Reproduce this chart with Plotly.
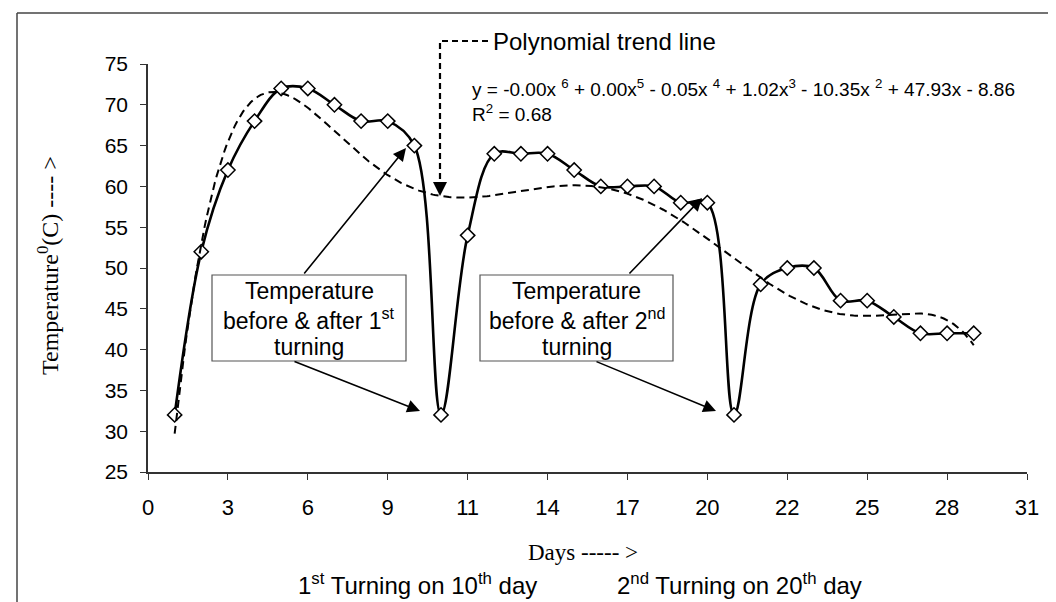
import numpy as np
import plotly.graph_objects as go

# ---------------- data ----------------
days = list(range(1, 32))
temps = [32, 52, 62, 68, 72, 72, 70, 68, 68, 65, 32,
         54, 64, 64, 64, 62, 60, 60, 60, 58, 58, 32,
         48, 50, 50, 46, 46, 44, 42, 42, 42]
x_tick_labels = ["0", "3", "6", "9", "11", "14", "17", "20", "22", "25", "28", "31"]
y_ticks = [25, 30, 35, 40, 45, 50, 55, 60, 65, 70, 75]

# 6th-order polynomial trend line fitted to the data (as in the source chart)
coef = np.polyfit(days, temps, 6)
trend_x = np.linspace(days[0], days[-1], 400)
trend_y = np.polyval(coef, trend_x)

SANS = "Liberation Sans, Arial, sans-serif"
SERIF = "Liberation Serif, Times New Roman, serif"

fig = go.Figure()
fig.add_trace(go.Scatter(
    x=days, y=temps, mode="lines+markers",
    line=dict(color="black", width=2.6, shape="spline", smoothing=1),
    marker=dict(symbol="diamond", size=11, color="white",
                line=dict(color="black", width=1.5)),
    showlegend=False, cliponaxis=False))
fig.add_trace(go.Scatter(
    x=trend_x, y=trend_y, mode="lines",
    line=dict(color="black", width=2, dash="8px,5px"),
    showlegend=False, cliponaxis=False))

# plot area geometry (pixels) used to place layout items
L, R, T, B = 140, 1019, 56, 464
def px(p):
    return (p - L) / (R - L)
def py(p):
    return (B - p) / (B - T)

shapes = []
annotations = []

# outer chart border (left and top)
shapes.append(dict(type="line", xref="paper", yref="paper",
                   x0=px(9), x1=px(9), y0=py(5), y1=py(602),
                   line=dict(color="#444", width=1.5)))
shapes.append(dict(type="line", xref="paper", yref="paper",
                   x0=px(9), x1=px(1056), y0=py(5), y1=py(5),
                   line=dict(color="#444", width=1.5)))

# callout boxes
box_lines_1 = ["Temperature", "before &amp; after 1<sup>st</sup>", "turning"]
box_lines_2 = ["Temperature", "before &amp; after 2<sup>nd</sup>", "turning"]
for (x0, x1), lines in [((204, 398), box_lines_1), ((472, 665), box_lines_2)]:
    shapes.append(dict(type="rect", xref="paper", yref="paper",
                       x0=px(x0), x1=px(x1), y0=py(353), y1=py(267),
                       line=dict(color="#555", width=1.2),
                       fillcolor="white", layer="above"))
    for txt, yc in zip(lines, [283, 311, 339]):
        annotations.append(dict(xref="paper", yref="paper", x=px((x0 + x1) / 2),
                                y=py(yc), xanchor="center", yanchor="middle",
                                showarrow=False, text=txt,
                                font=dict(family=SANS, size=23, color="black")))

# callout arrows (tail -> tip), pixel positions
for (tx, ty, hx, hy) in [(295, 267, 398, 140),
                         (285, 353, 412, 403),
                         (620, 267, 694, 190),
                         (587, 353, 708, 403)]:
    annotations.append(dict(xref="paper", yref="paper", axref="pixel", ayref="pixel",
                            x=px(hx), y=py(hy), ax=tx - hx, ay=ty - hy, text="",
                            showarrow=True, arrowhead=2, arrowsize=1.6,
                            arrowwidth=1.6, arrowcolor="black", standoff=0))

# dashed pointer to the trend line
shapes.append(dict(type="path", xref="paper", yref="paper",
                   path=f"M {px(480)} {py(33)} L {px(432)} {py(33)} L {px(432)} {py(176)}",
                   line=dict(color="black", width=2.2, dash="6px,4px")))
annotations.append(dict(xref="paper", yref="paper", x=px(432), y=py(188),
                        ax=0, ay=-14, text="", showarrow=True, arrowhead=2,
                        arrowsize=1.4, arrowwidth=2, arrowcolor="black", standoff=0))
annotations.append(dict(xref="paper", yref="paper", x=px(483), y=py(34),
                        xanchor="left", yanchor="middle", showarrow=False,
                        text="Polynomial trend line",
                        font=dict(family=SANS, size=24, color="black")))
annotations.append(dict(xref="paper", yref="paper", x=px(462), y=py(80),
                        xanchor="left", yanchor="middle", showarrow=False,
                        text="y = -0.00x <sup>6</sup> + 0.00x<sup>5</sup> - 0.05x <sup>4</sup> + 1.02x<sup>3</sup> - 10.35x <sup>2</sup> + 47.93x - 8.86",
                        font=dict(family=SANS, size=19, color="black")))
annotations.append(dict(xref="paper", yref="paper", x=px(462), y=py(105),
                        xanchor="left", yanchor="middle", showarrow=False,
                        text="R<sup>2</sup> = 0.68",
                        font=dict(family=SANS, size=19, color="black")))

# axis titles and footnote
annotations.append(dict(xref="paper", yref="paper", x=px(40), y=py(258),
                        xanchor="center", yanchor="middle",
                        textangle=-90, showarrow=False,
                        text="Temperature<sup>0</sup>(C) ---- >",
                        font=dict(family=SERIF, size=24, color="black")))
annotations.append(dict(xref="paper", yref="paper", x=px(575), y=py(544),
                        xanchor="center", yanchor="middle",
                        showarrow=False, text="Days ----- >",
                        font=dict(family=SERIF, size=23, color="black")))
annotations.append(dict(xref="paper", yref="paper", x=px(288), y=py(576),
                        xanchor="left", yanchor="middle", showarrow=False,
                        text="1<sup>st</sup> Turning on 10<sup>th</sup> day",
                        font=dict(family=SANS, size=24, color="black")))
annotations.append(dict(xref="paper", yref="paper", x=px(607), y=py(576),
                        xanchor="left", yanchor="middle", showarrow=False,
                        text="2<sup>nd</sup> Turning on 20<sup>th</sup> day",
                        font=dict(family=SANS, size=24, color="black")))

fig.update_layout(
    width=1056, height=602, autosize=False,
    margin=dict(l=L, r=1056 - R, t=T, b=602 - B),
    paper_bgcolor="white", plot_bgcolor="white",
    shapes=shapes, annotations=annotations,
    xaxis=dict(range=[0, 33], tickvals=list(range(0, 34, 3)), ticktext=x_tick_labels,
               showgrid=False, zeroline=False, showline=True, linecolor="#333",
               linewidth=1.5, ticks="outside", ticklen=6, tickcolor="#333",
               tickwidth=1.3, ticklabelstandoff=9,
               tickfont=dict(family=SANS, size=22, color="black")),
    yaxis=dict(range=[25, 75], tickvals=y_ticks,
               showgrid=False, zeroline=False, showline=True, linecolor="#333",
               linewidth=1.5, ticks="outside", ticklen=6, tickcolor="#333",
               tickwidth=1.3, ticklabelstandoff=8,
               tickfont=dict(family=SANS, size=21, color="black")),
)

fig.write_html("out.html")
